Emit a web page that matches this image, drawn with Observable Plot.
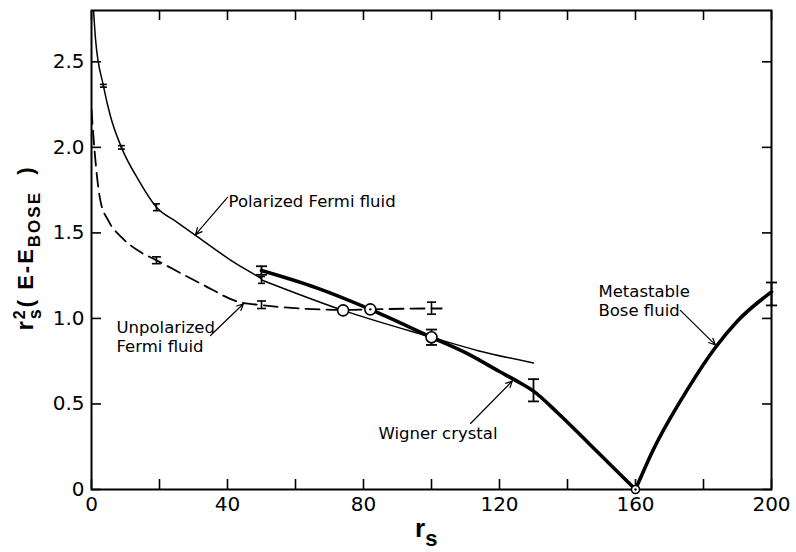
<!DOCTYPE html>
<html>
<head>
<meta charset="utf-8">
<script src="https://cdn.jsdelivr.net/npm/d3@7"></script>
<script src="https://cdn.jsdelivr.net/npm/@observablehq/plot@0.6"></script>
<style>
  html, body { margin: 0; padding: 0; background: #fff; }
  #chart svg { display: block; }
</style>
</head>
<body>
<div id="chart"></div>
<script>
// ---- Data ----
// x = r_s, y = r_s^2 (E - E_BOSE)
const polarizedFluid = [[0.6,2.8],[1.2,2.63],[3.5,2.36],[5.6,2.18],[8.8,2.0],[13.8,1.81],[19.1,1.65],[25,1.565],[31,1.48],[41,1.34],[48.5,1.25],[50,1.232]];
const polarizedExtension = [[50,1.225],[74,1.047],[100,0.89],[114,0.81],[130,0.74]];
const unpolarizedFluid = [[0,2.22],[0.9,1.98],[2.6,1.69],[5,1.57],[8.8,1.475],[13.8,1.395],[19.1,1.34],[32,1.205],[43.8,1.094],[50,1.078],[74,1.05],[82,1.053],[100,1.058],[103,1.058]];
const wignerCrystal = [[50,1.28],[66,1.18],[82,1.053],[100,0.89],[110,0.80],[120,0.69],[125,0.635],[130,0.575],[137,0.45],[146,0.275],[160,0]];
const boseFluid = [[160,0],[165.3,0.235],[175.3,0.585],[183.5,0.83],[190,0.985],[200,1.155]];

// error bars: [x, y, half-width]
const polarizedErr = [[3.5,2.36,0.008],[8.8,2.0,0.01],[19.1,1.65,0.02],[50,1.225,0.02]];
const unpolarizedErr = [[19.1,1.34,0.02],[50,1.08,0.022],[100,1.06,0.035]];
const wignerErr = [[50,1.28,0.025],[100,0.89,0.045],[130,0.58,0.065]];
const boseErr = [[200,1.143,0.067]];

// open circles marking crossings
const crossings = [[74,1.047],[82,1.053],[100,0.89]];
const centerDots = [[82,1.053],[160,0]];
const zeroPoint = [[160,0]];

// ticks
const xTicks = [0,20,40,60,80,100,120,140,160,180,200];
const xLabels = [0,40,80,120,160,200];
const yTicks = [0,0.5,1.0,1.5,2.0,2.5];

// annotations: [x, y, text] and arrows [x1,y1,x2,y2]
const labels = [
  [40.3,1.684,"Polarized Fermi fluid"],
  [7.35,0.892,"Unpolarized\nFermi fluid"],
  [84.4,0.333,"Wigner crystal"],
  [149.1,1.105,"Metastable\nBose fluid"]
];
const arrows = [
  [40,1.708,30.6,1.49],
  [35,0.90,44.7,1.086],
  [111.5,0.386,123.8,0.635],
  [173.2,1.047,183.5,0.845]
];

// ---- helpers ----
const hline = { draw(context, size) { const w = Math.sqrt(size / Math.PI); context.moveTo(-w, 0); context.lineTo(w, 0); } };
const capsOf = (err) => err.flatMap(([x, y, e]) => [[x, y - e], [x, y + e]]);
const font = "DejaVu Sans, Verdana, sans-serif";
const boldFont = "Liberation Sans, Arial, Helvetica, sans-serif";

const errMarks = (err, sw, capR) => [
  Plot.ruleX(err, {x: d => d[0], y1: d => d[1] - d[2], y2: d => d[1] + d[2], stroke: "black", strokeWidth: sw}),
  Plot.dot(capsOf(err), {x: d => d[0], y: d => d[1], symbol: hline, r: capR, stroke: "black", strokeWidth: sw, fill: "none"})
];

const chart = Plot.plot({
  width: 796,
  height: 552,
  marginLeft: 91,
  marginRight: 25,
  marginTop: 10,
  marginBottom: 63,
  style: {fontFamily: font, background: "white", color: "black"},
  x: {domain: [0, 200]},
  y: {domain: [0, 2.8]},
  marks: [
    // axes: inward ticks on all four sides
    Plot.axisX({anchor: "bottom", ticks: xTicks, tickSize: -10, tickFormat: () => "", label: null, strokeWidth: 1.6}),
    Plot.axisX({anchor: "top", ticks: xTicks, tickSize: -9, tickFormat: () => "", label: null, strokeWidth: 1.6}),
    Plot.axisY({anchor: "left", ticks: yTicks, tickSize: -10, tickFormat: () => "", label: null, strokeWidth: 1.6}),
    Plot.axisY({anchor: "right", ticks: yTicks, tickSize: -10, tickFormat: () => "", label: null, strokeWidth: 1.6}),
    Plot.axisX({anchor: "bottom", ticks: xLabels, tickSize: 0, tickPadding: 7, fontSize: 20, label: null, tickFormat: d => String(d)}),
    Plot.axisY({anchor: "left", ticks: yTicks, tickSize: 0, tickPadding: 7, fontSize: 20, label: null, tickFormat: d => d === 0 ? "0" : d.toFixed(1)}),
    Plot.frame({stroke: "black", strokeWidth: 2}),

    // curves
    Plot.line(polarizedFluid, {x: d => d[0], y: d => d[1], curve: "monotone-x", stroke: "black", strokeWidth: 1.5, clip: true}),
    Plot.line(polarizedExtension, {x: d => d[0], y: d => d[1], curve: "monotone-x", stroke: "black", strokeWidth: 1.5}),
    Plot.line(unpolarizedFluid, {x: d => d[0], y: d => d[1], curve: "monotone-x", stroke: "black", strokeWidth: 1.8, strokeDasharray: "14,7", clip: true}),
    Plot.line(wignerCrystal, {x: d => d[0], y: d => d[1], curve: "monotone-x", stroke: "black", strokeWidth: 3.6}),
    Plot.line(boseFluid, {x: d => d[0], y: d => d[1], curve: "monotone-x", stroke: "black", strokeWidth: 3.6}),

    // error bars
    ...errMarks(polarizedErr, 1.6, 3.5),
    ...errMarks(unpolarizedErr, 1.6, 4.5),
    ...errMarks(wignerErr, 1.8, 5.5),
    ...errMarks(boseErr, 1.8, 5.5),

    // circles
    Plot.dot(crossings, {x: d => d[0], y: d => d[1], r: 5.5, fill: "white", stroke: "black", strokeWidth: 1.6}),
    Plot.dot(zeroPoint, {x: d => d[0], y: d => d[1], r: 4, fill: "white", stroke: "black", strokeWidth: 1.6}),
    Plot.dot(centerDots, {x: d => d[0], y: d => d[1], r: 1.2, fill: "black"}),

    // annotations
    Plot.arrow(arrows, {x1: d => d[0], y1: d => d[1], x2: d => d[2], y2: d => d[3], stroke: "black", strokeWidth: 1.2, headLength: 9, headAngle: 50}),
    Plot.text(labels, {x: d => d[0], y: d => d[1], text: d => d[2], textAnchor: "start", lineAnchor: "middle", fontSize: 16.5, lineHeight: 1.15, fill: "black"})
  ]
});

document.getElementById("chart").appendChild(chart);

// axis titles with sub/superscripts
const svg = d3.select(chart);
const xl = svg.append("text")
  .attr("x", 415).attr("y", 537).attr("text-anchor", "start")
  .attr("font-family", boldFont).attr("font-weight", "bold").attr("font-size", 26).attr("fill", "black");
xl.append("tspan").text("r");
xl.append("tspan").attr("dy", 9).attr("font-size", 22).text("s");

const yl = svg.append("text")
  .attr("transform", "translate(33,248) rotate(-90)").attr("text-anchor", "middle")
  .attr("font-family", boldFont).attr("font-weight", "bold").attr("font-size", 22).attr("fill", "black")
  .style("letter-spacing", "2px");
yl.append("tspan").attr("font-size", 24).text("r");
yl.append("tspan").attr("dy", -8).attr("font-size", 16).text("2");
yl.append("tspan").attr("dx", -11).attr("dy", 16).attr("font-size", 18).text("s");
yl.append("tspan").attr("dy", -8).text("( E-E");
yl.append("tspan").attr("dy", 7).attr("font-size", 17).text("BOSE");
yl.append("tspan").attr("dy", -7).text("  )");
</script>
</body>
</html>
